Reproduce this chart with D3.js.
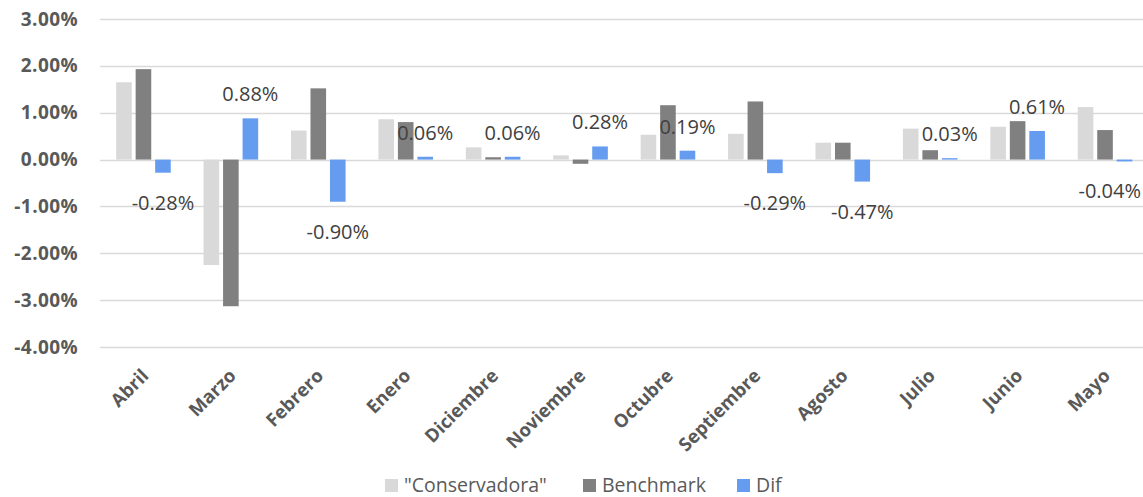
<!DOCTYPE html>
<html>
<head>
<meta charset="utf-8">
<script src="https://cdn.jsdelivr.net/npm/d3@7"></script>
<style>
  body { margin: 0; background: #fff; }
  svg { display: block; }
</style>
</head>
<body>
<div id="vis"></div>
<script>
// data (percent values)
var months = ["Abril", "Marzo", "Febrero", "Enero", "Diciembre", "Noviembre", "Octubre", "Septiembre", "Agosto", "Julio", "Junio", "Mayo"];
var conservadora = [1.65, -2.25, 0.62, 0.86, 0.26, 0.09, 0.53, 0.55, 0.36, 0.66, 0.70, 1.12];
var benchmark = [1.93, -3.13, 1.52, 0.80, 0.05, -0.09, 1.16, 1.24, 0.36, 0.20, 0.82, 0.63];
var dif = [-0.28, 0.88, -0.90, 0.06, 0.06, 0.28, 0.19, -0.29, -0.47, 0.03, 0.61, -0.04];
var yTicks = [3, 2, 1, 0, -1, -2, -3, -4];
var seriesNames = ['"Conservadora"', "Benchmark", "Dif"];
var seriesColours = ["#d9d9d9", "#808080", "#659cf0"];

var svgWidth = 1143, svgHeight = 497;
var svg = d3.select("#vis").append("svg")
  .attr("width", svgWidth)
  .attr("height", svgHeight);

// plot area runs slightly past the right edge of the picture
var x0 = d3.scaleBand().domain(months).range([100, 1149]);
var x1 = d3.scaleBand().domain([0, 1, 2])
  .range([14.2, 72.7])
  .paddingInner(0.2)
  .paddingOuter(0.1);
var y = d3.scaleLinear().domain([-4, 3]).range([347, 19]);

// percent with plain hyphen as minus sign
function pct(v) {
  return d3.format(".2f")(v).replace("\u2212", "-") + "%";
}

// gridlines
svg.append("g")
  .selectAll("line")
  .data(yTicks)
  .enter()
  .append("line")
  .attr("x1", 100)
  .attr("x2", 1149)
  .attr("y1", d => Math.round(y(d)) + 0.5)
  .attr("y2", d => Math.round(y(d)) + 0.5)
  .style("stroke", "#d9d9d9")
  .style("stroke-width", 1.5);

// y axis labels
var yAxis = d3.axisLeft(y).tickValues(yTicks).tickSize(0).tickPadding(0)
  .tickFormat(pct);
var yg = svg.append("g").attr("transform", "translate(78,0)").call(yAxis);
yg.select(".domain").remove();
yg.selectAll("text")
  .style("font-family", "'Open Sans', sans-serif")
  .style("font-weight", "bold")
  .style("font-size", "19px")
  .style("letter-spacing", "0.4px")
  .style("fill", "#595959");

// bars
var allSeries = [conservadora, benchmark, dif];
var groups = svg.append("g")
  .selectAll("g")
  .data(months)
  .enter()
  .append("g")
  .attr("transform", d => "translate(" + x0(d) + ",0)");

groups.selectAll("rect")
  .data((d, i) => allSeries.map((s, k) => ({ k: k, v: s[i] })))
  .enter()
  .append("rect")
  .attr("x", d => x1(d.k))
  .attr("width", x1.bandwidth())
  .attr("y", d => y(Math.max(0, d.v)))
  .attr("height", d => Math.abs(y(d.v) - y(0)))
  .attr("fill", d => seriesColours[d.k]);

// data labels for Dif (kept inside the picture like Excel does)
svg.append("g")
  .selectAll("text")
  .data(months)
  .enter()
  .append("text")
  .attr("x", (d, i) => x0(d) + x1(2) + x1.bandwidth() / 2)
  .attr("y", (d, i) => dif[i] >= 0 ? y(dif[i]) - 24 : y(dif[i]) + 30)
  .attr("dy", "0.35em")
  .attr("text-anchor", "middle")
  .style("font-family", "'Open Sans', sans-serif")
  .style("font-size", "20px")
  .style("fill", "#404040")
  .text((d, i) => pct(dif[i]))
  .each(function () {
    var w = this.getComputedTextLength();
    var cx = +this.getAttribute("x");
    if (cx + w / 2 > svgWidth - 2) this.setAttribute("x", svgWidth - 2 - w / 2);
  });

// x axis labels
svg.append("g")
  .selectAll("text")
  .data(months)
  .enter()
  .append("text")
  .attr("transform", d => "translate(" + (x0(d) + x0.bandwidth() / 2 + 6) + ",377) rotate(-45)")
  .attr("text-anchor", "end")
  .style("font-family", "'Open Sans', sans-serif")
  .style("font-weight", "bold")
  .style("font-size", "18.5px")
  .style("fill", "#595959")
  .text(d => d);

// legend
var legendX = [385, 583, 737];
var legend = svg.append("g")
  .selectAll("g")
  .data(seriesNames)
  .enter()
  .append("g")
  .attr("transform", (d, i) => "translate(" + legendX[i] + ",479)");
legend.append("rect")
  .attr("width", 13)
  .attr("height", 13)
  .attr("fill", (d, i) => seriesColours[i]);
legend.append("text")
  .attr("x", 19)
  .attr("y", 6)
  .attr("dy", "0.35em")
  .style("font-family", "'Open Sans', sans-serif")
  .style("font-size", "19.5px")
  .style("fill", "#595959")
  .text(d => d);
</script>
</body>
</html>
